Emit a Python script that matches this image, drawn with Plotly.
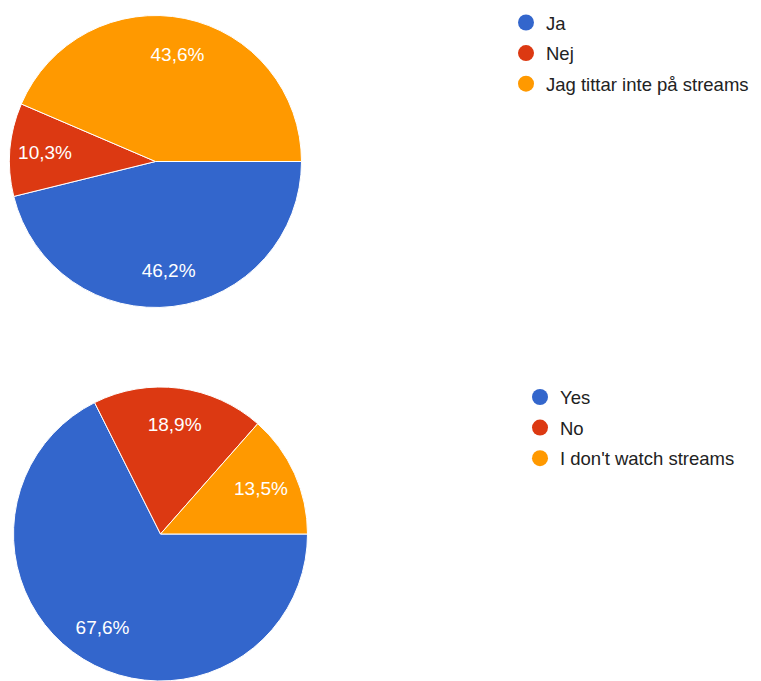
import plotly.graph_objects as go

# Data
labels_sv = ["Ja", "Nej", "Jag tittar inte på streams"]
values_sv = [46.2, 10.3, 43.6]
labels_en = ["Yes", "No", "I don't watch streams"]
values_en = [67.6, 18.9, 13.5]
colors = ["#3366CC", "#DC3912", "#FF9900"]

# Page has an 8px body margin; the figure fills the rest of the 761x681 window
W, H = 753, 673
FONT = "Liberation Sans, Arial, sans-serif"


def fmt(v):
    return f"{v:.1f}".replace(".", ",") + "%"


fig = go.Figure()

dom_top = dict(x=[1.5 / W, 293.5 / W], y=[1 - 299.5 / H, 1 - 7.5 / H])
dom_bot = dict(x=[5.5 / W, 299.5 / W], y=[0, 1 - 379 / H])

for labels, values, dom in [(labels_sv, values_sv, dom_top),
                            (labels_en, values_en, dom_bot)]:
    # coloured slices
    fig.add_trace(go.Pie(
        labels=labels, values=values, sort=False, direction="clockwise",
        rotation=90, marker=dict(colors=colors, line=dict(color="white", width=1)),
        textinfo="none", showlegend=False, hoverinfo="label+percent",
        domain=dom,
    ))
    # percentage labels, placed by the pie in its outer ring
    fig.add_trace(go.Pie(
        labels=labels, values=values, sort=False, direction="clockwise",
        rotation=90, hole=0.5,
        marker=dict(colors=["rgba(0,0,0,0)"] * 3, line=dict(width=0)),
        text=[fmt(v) for v in values], textinfo="text", textposition="inside",
        insidetextorientation="horizontal",
        insidetextfont=dict(color="white", size=19, family=FONT),
        showlegend=False, hoverinfo="skip",
        domain=dom,
    ))

# Legend entries (circles)
for lab, col in zip(labels_sv, colors):
    fig.add_trace(go.Scatter(
        x=[None], y=[None], mode="markers", name=lab, legend="legend",
        legendgroup="sv_" + lab,
        marker=dict(symbol="circle", size=16, color=col),
    ))
for lab, col in zip(labels_en, colors):
    fig.add_trace(go.Scatter(
        x=[None], y=[None], mode="markers", name=lab, legend="legend2",
        legendgroup="en_" + lab,
        marker=dict(symbol="circle", size=16, color=col),
    ))

LEG_FONT = dict(family=FONT, size=18.5, color="#222222")
fig.update_layout(
    width=W, height=H,
    margin=dict(l=0, r=0, t=0, b=0, autoexpand=False),
    paper_bgcolor="white", plot_bgcolor="white",
    font=dict(family=FONT, size=19, color="#222222"),
    xaxis=dict(visible=False, domain=[0.99, 1]),
    yaxis=dict(visible=False, domain=[0.99, 1]),
    legend=dict(x=498 / W, y=1 + 4 / H, xanchor="left", yanchor="top",
                bgcolor="rgba(0,0,0,0)", tracegroupgap=3.5, font=LEG_FONT),
    legend2=dict(x=512 / W, y=1 - 370.5 / H, xanchor="left", yanchor="top",
                 bgcolor="rgba(0,0,0,0)", tracegroupgap=3.5, font=LEG_FONT),
)

fig.write_html("out.html")
